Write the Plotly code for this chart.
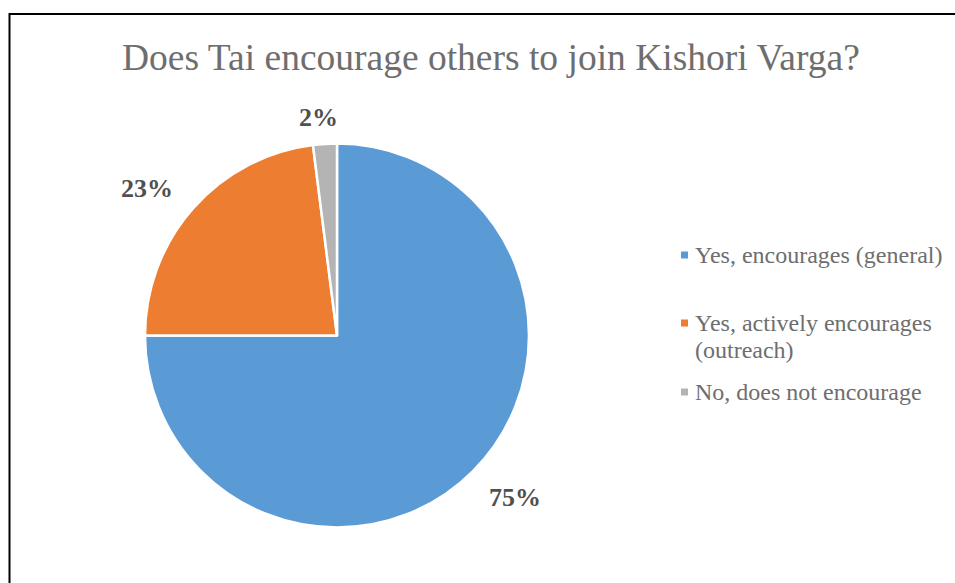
import plotly.graph_objects as go

# Survey responses
labels = ["Yes, encourages (general)", "Yes, actively encourages (outreach)", "No, does not encourage"]
values = [75, 23, 2]
legend_text = ["Yes, encourages (general)", "Yes, actively encourages<br>(outreach)", "No, does not encourage"]

colors = ["#5B9BD5", "#ED7D31", "#B4B4B4"]

W, H = 955, 583


def px(x):
    return x / W


def py(y):
    return 1 - y / H


# Pie geometry in pixels
cx, cy, r = 337, 335.5, 192

fig = go.Figure(
    go.Pie(
        labels=labels,
        values=values,
        sort=False,
        direction="clockwise",
        rotation=0,
        marker=dict(colors=colors, line=dict(color="white", width=2.5)),
        textinfo="none",
        hoverinfo="label+percent",
        showlegend=False,
        domain=dict(x=[px(cx - r), px(cx + r)], y=[py(cy + r), py(cy - r)]),
    )
)

serif = "Liberation Serif"

annotations = [
    dict(
        text="Does Tai encourage others to join Kishori Varga?",
        x=px(490.5), y=py(58), xref="paper", yref="paper",
        showarrow=False, xanchor="center", yanchor="middle",
        font=dict(family=serif, size=37.5, color="#6E6E6E"),
    )
]

# Data labels placed outside the pie
label_pos = [(515, 497), (147, 188), (318, 118)]
total = sum(values)
for v, (lx, ly) in zip(values, label_pos):
    annotations.append(
        dict(
            text=f"<b>{round(100 * v / total)}%</b>",
            x=px(lx), y=py(ly), xref="paper", yref="paper",
            showarrow=False, xanchor="center", yanchor="middle",
            font=dict(family=serif, size=26, color="#505050"),
        )
    )

# Legend drawn as markers + text, one annotation per text line
legend_rows = [255, 323, 392]
line_gap = 27
shapes = []
for txt, col, ly in zip(legend_text, colors, legend_rows):
    shapes.append(
        dict(
            type="rect", xref="paper", yref="paper",
            x0=px(681), x1=px(688), y0=py(ly + 3.5), y1=py(ly - 3.5),
            fillcolor=col, line=dict(width=0),
        )
    )
    for k, line in enumerate(txt.split("<br>")):
        annotations.append(
            dict(
                text=line,
                x=px(693), y=py(ly + k * line_gap), xref="paper", yref="paper",
                showarrow=False, xanchor="left", yanchor="middle", align="left",
                font=dict(family=serif, size=24, color="#6E6E6E"),
            )
        )

# Outer chart frame
shapes.append(
    dict(
        type="rect", xref="paper", yref="paper",
        x0=px(9.5), x1=px(W + 20), y0=py(H + 20), y1=py(14),
        line=dict(color="black", width=2), fillcolor="rgba(0,0,0,0)",
    )
)

fig.update_layout(
    width=W, height=H,
    margin=dict(l=0, r=0, t=0, b=0),
    paper_bgcolor="white",
    plot_bgcolor="white",
    annotations=annotations,
    shapes=shapes,
)

fig.write_html("out.html")
